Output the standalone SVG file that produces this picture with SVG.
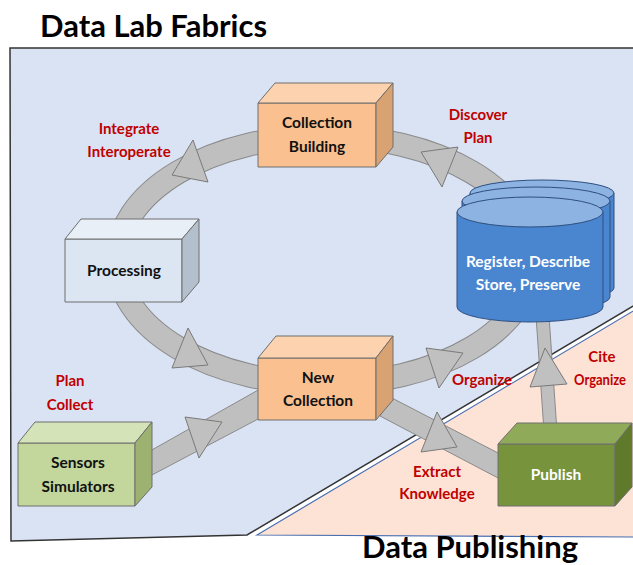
<svg xmlns="http://www.w3.org/2000/svg" width="633" height="565" viewBox="0 0 633 565">
<style>
.title{font-family:Lato,"Liberation Sans",sans-serif;font-weight:bold;font-size:30px;fill:#000}
.lbl{font-family:Lato,"Liberation Sans",sans-serif;font-weight:bold;font-size:15px;fill:#C00000;text-anchor:middle}
.bx{font-family:Lato,"Liberation Sans",sans-serif;font-weight:bold;font-size:15.5px;fill:#111;text-anchor:middle}
.bxw{font-family:Lato,"Liberation Sans",sans-serif;font-weight:bold;font-size:15.5px;fill:#fff;text-anchor:middle}
.edge{stroke:#6E6E6E;stroke-width:1;stroke-linejoin:round}
.band{fill:#BFBFBF;stroke:#8A8A8A;stroke-width:1}
.tri{fill:#C0C0C0;stroke:#7A7A7A;stroke-width:1;stroke-linejoin:round}
.cylb{fill:#4A86CF;stroke:#2E4F80;stroke-width:1}
.cylt{fill:#8DB3E2;stroke:#2E4F80;stroke-width:1}
</style>
<!-- regions -->
<polygon points="10,48 640,48 640,302 247,535 11,541" fill="#DAE3F3" stroke="#333" stroke-width="1.5"/>
<polygon points="257,535 640,307 640,538 633,537" fill="#FDE3D6" stroke="#4A6FB0" stroke-width="1.2"/>
<text class="title" x="40" y="37" textLength="227" lengthAdjust="spacingAndGlyphs">Data Lab Fabrics</text>
<text class="title" x="362" y="558" textLength="216" lengthAdjust="spacingAndGlyphs">Data Publishing</text>

<g id="connectors">
  <ellipse cx="325" cy="260" rx="208" ry="124" fill="none" stroke="#8A8A8A" stroke-width="24"/>
  <ellipse cx="325" cy="260" rx="208" ry="124" fill="none" stroke="#BFBFBF" stroke-width="22"/>
  <polygon class="band" points="150,451 260,389 260,418 150,476"/>
  <polygon class="band" points="390,397 500,454 500,479 380,416"/>
  <polygon class="band" points="536,316 549,316 558,446 545,446"/>
  <polygon class="tri" points="193,140 172,175 208,182"/>
  <polygon class="tri" points="421,152 458,147 442,187"/>
  <polygon class="tri" points="188,328 172,368 208,365"/>
  <polygon class="tri" points="185,417 222,422 199,458"/>
  <polygon class="tri" points="426,348 463,353 439,388"/>
  <polygon class="tri" points="437,412 421,452 457,447"/>
  <polygon class="tri" points="545,348 530,387 567,384"/>
</g>

<g id="labels">
  <text class="lbl" x="129" y="134">Integrate</text>
  <text class="lbl" x="129" y="157">Interoperate</text>
  <text class="lbl" x="478" y="120">Discover</text>
  <text class="lbl" x="478" y="143">Plan</text>
  <text class="lbl" x="70" y="386">Plan</text>
  <text class="lbl" x="70" y="410">Collect</text>
  <text class="lbl" x="482" y="385">Organize</text>
  <text class="lbl" x="602" y="362">Cite</text>
  <text class="lbl" x="574" y="385" style="text-anchor:start" textLength="52" lengthAdjust="spacingAndGlyphs">Organize</text>
  <text class="lbl" x="437" y="477">Extract</text>
  <text class="lbl" x="437" y="499">Knowledge</text>
</g>

<g id="collection-building">
  <rect class="edge" x="258" y="103" width="118" height="64" fill="#FAC090"/>
  <polygon class="edge" points="258,103 275,83 393,83 376,103" fill="#FCD3AE"/>
  <polygon class="edge" points="376,103 393,83 393,147 376,167" fill="#D9A272"/>
  <text class="bx" x="317" y="128">Collection</text>
  <text class="bx" x="317" y="152">Building</text>
</g>

<g id="processing">
  <rect class="edge" x="65" y="239" width="117" height="63" fill="#DCE6F2"/>
  <polygon class="edge" points="65,239 81,219 199,219 182,239" fill="#E9EFF7"/>
  <polygon class="edge" points="182,239 199,219 199,282 182,302" fill="#B3BFCC"/>
  <text class="bx" x="124" y="276">Processing</text>
</g>

<g id="new-collection">
  <rect class="edge" x="258" y="358" width="118" height="62" fill="#FAC090"/>
  <polygon class="edge" points="258,358 276,336 393,336 376,358" fill="#FCD3AE"/>
  <polygon class="edge" points="376,358 393,336 393,400 376,420" fill="#D9A272"/>
  <text class="bx" x="318" y="383">New</text>
  <text class="bx" x="318" y="406">Collection</text>
</g>

<g id="sensors-simulators">
  <rect class="edge" x="18" y="443" width="117" height="63" fill="#C3D69B"/>
  <polygon class="edge" points="18,443 35,422 152,422 135,443" fill="#D5E3B8"/>
  <polygon class="edge" points="135,443 152,422 152,487 135,506" fill="#9DB270"/>
  <text class="bx" x="78" y="468">Sensors</text>
  <text class="bx" x="78" y="492">Simulators</text>
</g>

<g id="publish">
  <rect class="edge" x="498" y="444" width="117" height="62" fill="#77933C"/>
  <polygon class="edge" points="498,444 517,423 632,423 615,444" fill="#8FAA58"/>
  <polygon class="edge" points="615,444 632,423 632,487 615,506" fill="#5E7A2A"/>
  <text class="bxw" x="556" y="480">Publish</text>
</g>

<g id="repository">
  <path class="cylb" d="M470,193 V288 A72,13 0 0 0 614,288 V193 Z"/>
  <ellipse class="cylt" cx="542" cy="193" rx="72" ry="13"/>
  <path class="cylb" d="M462,201 V297 A74,14 0 0 0 610,297 V201 Z"/>
  <ellipse class="cylt" cx="536" cy="201" rx="74" ry="14"/>
  <path class="cylb" d="M457,212 V307 A73,15 0 0 0 603,307 V212 Z"/>
  <ellipse class="cylt" cx="530" cy="212" rx="73" ry="15"/>
  <text class="bxw" x="528" y="267">Register, Describe</text>
  <text class="bxw" x="528" y="290">Store, Preserve</text>
</g>
</svg>
